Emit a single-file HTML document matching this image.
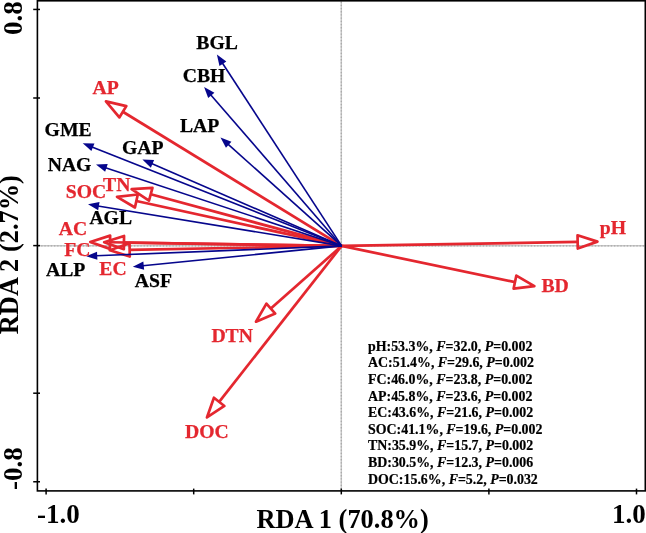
<!DOCTYPE html>
<html><head><meta charset="utf-8"><style>
html,body{margin:0;padding:0;background:#fff;}
svg{display:block;will-change:transform;}
text{font-family:"Liberation Serif",serif;font-weight:bold;}
</style></head><body>
<svg width="646" height="533" viewBox="0 0 646 533">
<rect width="646" height="533" fill="#fff"/>
<g stroke="#c8c8c8" stroke-width="1.5">
<line x1="341.3" y1="1.5" x2="341.3" y2="490.2"/>
<line x1="38" y1="245.8" x2="644.5" y2="245.8"/>
</g>
<g stroke="#a8a8a8" stroke-width="1.3" stroke-dasharray="1.3 1.9">
<line x1="341.3" y1="1.5" x2="341.3" y2="490.2"/>
<line x1="38" y1="245.8" x2="644.5" y2="245.8"/>
</g>
<g>
<line x1="341.60" y1="245.90" x2="122.83" y2="111.76" stroke="#e4272f" stroke-width="2.7"/>
<polygon points="105.95,101.41 126.31,106.09 119.35,117.42" fill="none" stroke="#e4272f" stroke-width="2.7" stroke-linejoin="round"/>
<line x1="341.60" y1="245.90" x2="150.72" y2="194.32" stroke="#e4272f" stroke-width="2.7"/>
<polygon points="131.60,189.15 152.45,187.90 148.98,200.74" fill="none" stroke="#e4272f" stroke-width="2.7" stroke-linejoin="round"/>
<line x1="341.60" y1="245.90" x2="136.36" y2="201.02" stroke="#e4272f" stroke-width="2.7"/>
<polygon points="117.02,196.79 137.78,194.52 134.94,207.51" fill="none" stroke="#e4272f" stroke-width="2.7" stroke-linejoin="round"/>
<line x1="341.60" y1="245.90" x2="110.05" y2="242.23" stroke="#e4272f" stroke-width="2.7"/>
<polygon points="90.25,241.92 110.15,235.59 109.94,248.88" fill="none" stroke="#e4272f" stroke-width="2.7" stroke-linejoin="round"/>
<line x1="341.60" y1="245.90" x2="123.95" y2="242.62" stroke="#e4272f" stroke-width="2.7"/>
<polygon points="104.15,242.32 124.05,235.97 123.85,249.27" fill="none" stroke="#e4272f" stroke-width="2.7" stroke-linejoin="round"/>
<line x1="341.60" y1="245.90" x2="129.65" y2="249.90" stroke="#e4272f" stroke-width="2.7"/>
<polygon points="109.85,250.27 129.52,243.25 129.77,256.55" fill="none" stroke="#e4272f" stroke-width="2.7" stroke-linejoin="round"/>
<line x1="341.60" y1="245.90" x2="270.83" y2="308.58" stroke="#e4272f" stroke-width="2.7"/>
<polygon points="256.01,321.70 266.42,303.60 275.24,313.56" fill="none" stroke="#e4272f" stroke-width="2.7" stroke-linejoin="round"/>
<line x1="341.60" y1="245.90" x2="219.16" y2="401.86" stroke="#e4272f" stroke-width="2.7"/>
<polygon points="206.93,417.44 213.93,397.76 224.39,405.97" fill="none" stroke="#e4272f" stroke-width="2.7" stroke-linejoin="round"/>
<line x1="341.60" y1="245.90" x2="577.65" y2="241.95" stroke="#e4272f" stroke-width="2.7"/>
<polygon points="597.45,241.62 577.76,248.60 577.54,235.30" fill="none" stroke="#e4272f" stroke-width="2.7" stroke-linejoin="round"/>
<line x1="341.60" y1="245.90" x2="515.00" y2="282.08" stroke="#e4272f" stroke-width="2.7"/>
<polygon points="534.38,286.12 513.64,288.59 516.35,275.57" fill="none" stroke="#e4272f" stroke-width="2.7" stroke-linejoin="round"/>
<line x1="341.60" y1="245.90" x2="222.36" y2="62.98" stroke="#06068c" stroke-width="1.6"/>
<polygon points="216.90,54.60 226.34,61.58 219.47,66.05" fill="#06068c"/>
<line x1="341.60" y1="245.90" x2="210.65" y2="94.66" stroke="#06068c" stroke-width="1.6"/>
<polygon points="204.10,87.10 214.40,92.73 208.20,98.10" fill="#06068c"/>
<line x1="341.60" y1="245.90" x2="227.95" y2="144.07" stroke="#06068c" stroke-width="1.6"/>
<polygon points="220.50,137.40 231.43,141.69 225.96,147.79" fill="#06068c"/>
<line x1="341.60" y1="245.90" x2="92.00" y2="146.89" stroke="#06068c" stroke-width="1.6"/>
<polygon points="82.70,143.20 94.44,143.44 91.41,151.07" fill="#06068c"/>
<line x1="341.60" y1="245.90" x2="151.57" y2="163.48" stroke="#06068c" stroke-width="1.6"/>
<polygon points="142.40,159.50 154.12,160.12 150.86,167.64" fill="#06068c"/>
<line x1="341.60" y1="245.90" x2="105.49" y2="167.65" stroke="#06068c" stroke-width="1.6"/>
<polygon points="96.00,164.50 107.73,164.07 105.15,171.85" fill="#06068c"/>
<line x1="341.60" y1="245.90" x2="97.87" y2="205.92" stroke="#06068c" stroke-width="1.6"/>
<polygon points="88.00,204.30 99.52,202.03 98.19,210.13" fill="#06068c"/>
<line x1="341.60" y1="245.90" x2="96.19" y2="255.80" stroke="#06068c" stroke-width="1.6"/>
<polygon points="86.20,256.20 97.03,251.66 97.36,259.85" fill="#06068c"/>
<line x1="341.60" y1="245.90" x2="142.75" y2="265.80" stroke="#06068c" stroke-width="1.6"/>
<polygon points="132.80,266.80 143.34,261.62 144.15,269.78" fill="#06068c"/>
</g>
<rect x="37.4" y="0.8" width="607.9" height="490.1" fill="none" stroke="#000" stroke-width="1.6"/>
<g stroke="#000" stroke-width="1.5">
<line x1="46.10" y1="488.6" x2="46.10" y2="494.4"/>
<line x1="193.70" y1="488.6" x2="193.70" y2="494.4"/>
<line x1="341.30" y1="488.6" x2="341.30" y2="494.4"/>
<line x1="488.90" y1="488.6" x2="488.90" y2="494.4"/>
<line x1="636.50" y1="488.6" x2="636.50" y2="494.4"/>
<line x1="33.2" y1="9.44" x2="40.0" y2="9.44"/>
<line x1="33.2" y1="98.00" x2="40.0" y2="98.00"/>
<line x1="33.2" y1="245.60" x2="40.0" y2="245.60"/>
<line x1="33.2" y1="393.20" x2="40.0" y2="393.20"/>
<line x1="33.2" y1="481.76" x2="40.0" y2="481.76"/>
</g>
<g font-size="19.7">
<text x="196.30" y="49.30" fill="#000" stroke="#000" stroke-width="0.25">BGL</text>
<text x="182.70" y="82.10" fill="#000" stroke="#000" stroke-width="0.25">CBH</text>
<text x="179.90" y="132.20" fill="#000" stroke="#000" stroke-width="0.25">LAP</text>
<text x="44.60" y="135.80" fill="#000" stroke="#000" stroke-width="0.25">GME</text>
<text x="47.70" y="171.10" fill="#000" stroke="#000" stroke-width="0.25">NAG</text>
<text x="121.90" y="154.00" fill="#000" stroke="#000" stroke-width="0.25">GAP</text>
<text x="89.40" y="224.00" fill="#000" stroke="#000" stroke-width="0.25">AGL</text>
<text x="46.00" y="276.40" fill="#000" stroke="#000" stroke-width="0.25">ALP</text>
<text x="134.80" y="286.50" fill="#000" stroke="#000" stroke-width="0.25">ASF</text>
<text x="92.60" y="93.90" fill="#e4272f" stroke="#e4272f" stroke-width="0.25">AP</text>
<text x="65.80" y="197.80" fill="#e4272f" stroke="#e4272f" stroke-width="0.25">SOC</text>
<text x="103.10" y="190.90" fill="#e4272f" stroke="#e4272f" stroke-width="0.25">TN</text>
<text x="58.70" y="234.70" fill="#e4272f" stroke="#e4272f" stroke-width="0.25">AC</text>
<text x="64.30" y="255.50" fill="#e4272f" stroke="#e4272f" stroke-width="0.25">FC</text>
<text x="99.30" y="274.90" fill="#e4272f" stroke="#e4272f" stroke-width="0.25">EC</text>
<text x="211.40" y="342.40" fill="#e4272f" stroke="#e4272f" stroke-width="0.25">DTN</text>
<text x="185.00" y="438.10" fill="#e4272f" stroke="#e4272f" stroke-width="0.25">DOC</text>
<text x="541.40" y="292.10" fill="#e4272f" stroke="#e4272f" stroke-width="0.25">BD</text>
<text x="599.80" y="234.20" fill="#e4272f" stroke="#e4272f" stroke-width="0.25">pH</text>
</g>
<g font-size="13.9" fill="#000" stroke="#000" stroke-width="0.2">
<text x="368.0" y="350.90">pH:53.3%, <tspan font-style="italic">F</tspan>=32.0, <tspan font-style="italic">P</tspan>=0.002</text>
<text x="368.0" y="367.48">AC:51.4%, <tspan font-style="italic">F</tspan>=29.6, <tspan font-style="italic">P</tspan>=0.002</text>
<text x="368.0" y="384.06">FC:46.0%, <tspan font-style="italic">F</tspan>=23.8, <tspan font-style="italic">P</tspan>=0.002</text>
<text x="368.0" y="400.64">AP:45.8%, <tspan font-style="italic">F</tspan>=23.6, <tspan font-style="italic">P</tspan>=0.002</text>
<text x="368.0" y="417.22">EC:43.6%, <tspan font-style="italic">F</tspan>=21.6, <tspan font-style="italic">P</tspan>=0.002</text>
<text x="368.0" y="433.80">SOC:41.1%, <tspan font-style="italic">F</tspan>=19.6, <tspan font-style="italic">P</tspan>=0.002</text>
<text x="368.0" y="450.38">TN:35.9%, <tspan font-style="italic">F</tspan>=15.7, <tspan font-style="italic">P</tspan>=0.002</text>
<text x="368.0" y="466.96">BD:30.5%, <tspan font-style="italic">F</tspan>=12.3, <tspan font-style="italic">P</tspan>=0.006</text>
<text x="368.0" y="483.54">DOC:15.6%, <tspan font-style="italic">F</tspan>=5.2, <tspan font-style="italic">P</tspan>=0.032</text>
</g>
<g font-size="27" fill="#000">
<text x="37" y="523.3">-1.0</text>
<text x="611.9" y="523.3">1.0</text>
<text transform="translate(22.2,34.9) rotate(-90)">0.8</text>
<text transform="translate(22.0,489.9) rotate(-90)">-0.8</text>
</g>
<g font-size="26.4" fill="#000">
<text x="256.5" y="527.8">RDA 1 (70.8%)</text>
<text transform="translate(17.8,334.2) rotate(-90)">RDA 2 (2.7%)</text>
</g>
</svg>
</body></html>
